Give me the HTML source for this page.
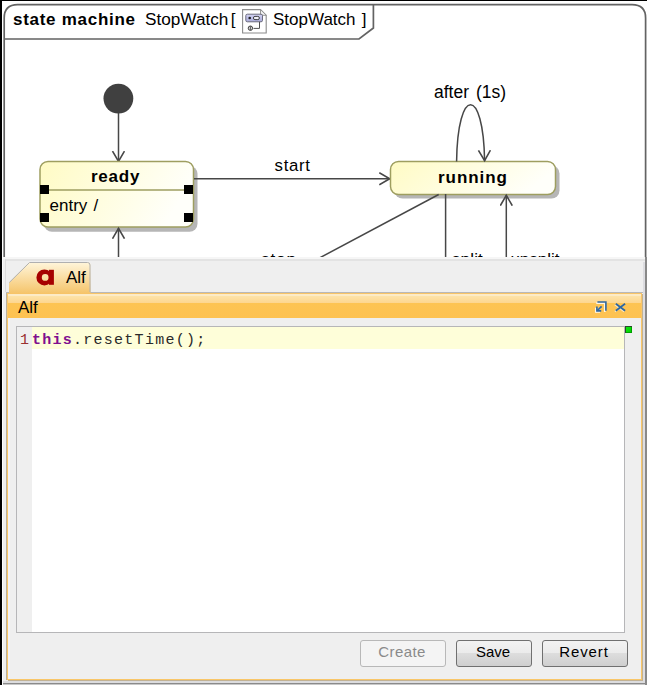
<!DOCTYPE html>
<html><head><meta charset="utf-8">
<style>
html,body{margin:0;padding:0;}
body{width:647px;height:685px;overflow:hidden;background:#fff;position:relative;font-family:"Liberation Sans",sans-serif;}
.abs{position:absolute;}
#blk-l{left:0;top:0;width:2px;height:685px;background:#000;}
#blk-t{left:0;top:0;width:647px;height:1px;background:#000;}
svg text{font-family:"Liberation Sans",sans-serif;}
#panel{left:2px;top:257px;width:643px;height:426px;background:linear-gradient(#f6f6f6 0,#f6f6f6 2px,#e3e3e3 2px,#e3e3e3 4px,#efefef 4px);}
#panel-l{left:2px;top:257px;width:1px;height:426px;background:#fcfcfc;}
#panel-il{left:5px;top:259px;width:1px;height:33px;background:#dcdcdc;}
#panel-il2{left:3px;top:259px;width:2px;height:2px;background:#efefef;}
#panel-r{left:645px;top:257px;width:2px;height:428px;background:#898989;}
#panel-ri{left:643px;top:262px;width:2px;height:421px;background:#dddde1;}
#panel-bi{left:3px;top:681px;width:642px;height:2px;background:#dcdcde;}
#panel-b{left:3px;top:683px;width:644px;height:1px;background:#8a8a8a;}
#panel-bw{left:3px;top:684px;width:644px;height:1px;background:#c8c8c8;}
#tab{left:9px;top:262px;width:82px;height:31px;}
#tabtxt{left:66px;top:267.5px;font-size:17px;color:#000;}
#frame{left:7px;top:293px;width:635px;height:387px;border:1px solid #f9c668;border-top:none;background:#efefef;box-sizing:border-box;box-shadow:-1px 0 0 #b9b09c, 1px 1px 0 #c2b294;}
#frame-in{left:8px;top:318px;width:2px;height:361px;background:#f3f3f6;}
#tline{left:6px;top:292px;width:637px;height:1px;background:#b9b9b9;}
#title{left:7px;top:293px;width:635px;height:25px;background:linear-gradient(#f7c468 0px,#f7c468 1px,#fdebc6 1px,#fdebc6 3px,#fde3a8 3px,#fdd690 10px,#fdc453 10px,#fdc252 25px);box-shadow:inset 1px 0 0 #f9c668, inset -1px 0 0 #f9c668;}
#titletxt{left:18px;top:298px;font-size:17px;color:#000;}
#editor{left:16px;top:326px;width:609px;height:307px;border:1px solid #b6b6b8;box-sizing:border-box;background:#fff;}
#gutter{left:17px;top:327px;width:15px;height:305px;background:#efefef;}
#hl{left:32px;top:327px;width:592px;height:22px;background:#fefed9;}
#ruler{left:625px;top:327px;width:0px;height:305px;}
#green{left:625px;top:326px;width:7px;height:7px;background:linear-gradient(135deg,#10f010,#00c800);box-shadow:inset 1px 1px 0 0 #2a4a2a, inset -1px -1px 0 0 #00a000;}
#code{left:32px;top:332px;font-family:"Liberation Mono",monospace;font-size:15px;letter-spacing:1.26px;white-space:pre;color:#2a2a2a;line-height:17px;}
#ln{left:20px;top:332px;font-family:"Liberation Mono",monospace;font-size:15px;color:#9a3030;line-height:17px;}
#code .ln{color:#9a3030;}
#code .kw{color:#7f0f8f;font-weight:bold;}
.btn{position:absolute;top:640px;height:27px;box-sizing:border-box;border:1px solid #707070;border-radius:3px;background:linear-gradient(#f2f2f2 0%,#ebebeb 50%,#dddddd 50%,#cfcfcf 100%);font-size:15px;text-align:center;line-height:22.6px;color:#000;padding-right:2px;}
#b-create{left:360px;width:86px;letter-spacing:0.4px;border-color:#b8b8b8;background:#f4f4f4;color:#8a8a8a;}
#b-save{left:456px;width:76px;}
#b-revert{left:542px;width:86px;letter-spacing:0.9px;}
</style></head><body>
<svg class="abs" style="left:0;top:0" width="647" height="257" viewBox="0 0 647 257">
  <defs>
    <linearGradient id="sg" x1="0" y1="0" x2="1" y2="0.25">
      <stop offset="0" stop-color="#fffbc4"/>
      <stop offset="1" stop-color="#fffffa"/>
    </linearGradient>
    <marker id="ah" markerWidth="14" markerHeight="14" refX="11.3" refY="6.5" orient="auto" markerUnits="userSpaceOnUse">
      <path d="M0.6,0.5 L11,6.5 L0.6,12.5" fill="none" stroke="#474747" stroke-width="1.6"/>
    </marker>
  </defs>
  <!-- outer frame -->
  <path d="M4.2,260 L4.2,18 Q4.2,4.6 17.6,4.6 L632,4.6 Q645.6,4.6 645.6,18 L645.6,260" fill="none" stroke="#636363" stroke-width="1.7"/>
  <!-- header tab -->
  <path d="M4.2,39 L359,39 L373.4,28 L373.4,4.6" fill="none" stroke="#636363" stroke-width="1.7"/>
  <text x="13" y="25.3" font-size="17" font-weight="bold" fill="#000" letter-spacing="0.72">state machine</text>
  <text x="145" y="25.3" font-size="17.2" fill="#000">StopWatch</text>
  <text x="230.8" y="25.3" font-size="17" fill="#000">[</text>
  <text x="273" y="25.3" font-size="17" fill="#000">StopWatch</text>
  <text x="361.8" y="25.3" font-size="17" fill="#000">]</text>
  <!-- icon -->
  <g>
    <defs>
      <linearGradient id="ig" x1="0" y1="0" x2="0" y2="1">
        <stop offset="0" stop-color="#d4d4f4"/>
        <stop offset="1" stop-color="#a9aad8"/>
      </linearGradient>
    </defs>
    <path d="M242.6,9.6 L260.5,9.6 L266.2,15.3 L266.2,33 L242.6,33 Z" fill="#fff" stroke="#8c8c8c" stroke-width="1.1"/>
    <path d="M260.5,9.6 L260.5,15.3 L266.2,15.3 Z" fill="#f4f4f4" stroke="#8c8c8c" stroke-width="0.9"/>
    <rect x="245.8" y="14.2" width="16.7" height="7.6" rx="1.5" fill="url(#ig)" stroke="#6c6c7c" stroke-width="1"/>
    <circle cx="249.7" cy="18" r="1.3" fill="#202020"/>
    <rect x="253.4" y="16.4" width="6" height="3.2" rx="1.6" fill="#f0f0f8" stroke="#303030" stroke-width="0.9"/>
    <path d="M259.5,21.8 L259.5,28.4 L253.5,28.4" fill="none" stroke="#505050" stroke-width="1"/>
    <circle cx="250.4" cy="28.2" r="2.2" fill="#d8d8d8" stroke="#404040" stroke-width="1"/>
    <path d="M250.4,26.2 L250.4,30.2" stroke="#404040" stroke-width="0.8"/>
  </g>
  <!-- initial node -->
  <circle cx="118.4" cy="98.6" r="14.9" fill="#404040"/>
  <line x1="118.5" y1="113" x2="118.5" y2="161.8" stroke="#474747" stroke-width="1.5" marker-end="url(#ah)"/>
  <!-- ready state -->
  <rect x="44" y="165.8" width="153.5" height="66" rx="8" fill="#b6b6b6"/>
  <rect x="40" y="161.5" width="153.5" height="65.6" rx="8" fill="url(#sg)" stroke="#9e9e60" stroke-width="1.5"/>
  <line x1="40" y1="190" x2="193.5" y2="190" stroke="#9e9e60" stroke-width="1.3"/>
  <text x="115.6" y="182" font-size="17" font-weight="bold" text-anchor="middle" fill="#000" letter-spacing="0.8">ready</text>
  <text x="49.5" y="210.5" font-size="17" fill="#000" word-spacing="1.4">entry /</text>
  <rect x="40" y="185" width="9" height="9" fill="#000"/>
  <rect x="184" y="185" width="9" height="9" fill="#000"/>
  <rect x="40" y="213" width="9" height="9" fill="#000"/>
  <rect x="184" y="213" width="9" height="9" fill="#000"/>
  <!-- arrow up into ready -->
  <line x1="118.5" y1="260" x2="118.5" y2="228" stroke="#474747" stroke-width="1.5" marker-end="url(#ah)"/>
  <!-- start -->
  <line x1="194" y1="178.8" x2="390" y2="178.8" stroke="#474747" stroke-width="1.5" marker-end="url(#ah)"/>
  <text x="274.6" y="171" font-size="16.8" fill="#000" letter-spacing="0.65">start</text>
  <!-- running state -->
  <rect x="394.5" y="165.5" width="165" height="33" rx="8" fill="#b6b6b6"/>
  <rect x="390.5" y="161.5" width="165" height="33" rx="8" fill="url(#sg)" stroke="#9e9e60" stroke-width="1.5"/>
  <text x="473" y="182.5" font-size="17" font-weight="bold" text-anchor="middle" fill="#000" letter-spacing="0.95">running</text>
  <!-- self loop -->
  <path d="M456.6,161.5 C457.5,85.85 483.5,85.85 484.6,161" fill="none" stroke="#474747" stroke-width="1.5" marker-end="url(#ah)"/>
  <text x="434" y="98" font-size="17.5" fill="#000" word-spacing="2">after (1s)</text>
  <!-- split / unsplit / stop -->
  <line x1="445.6" y1="194" x2="445.6" y2="260" stroke="#474747" stroke-width="1.5"/>
  <line x1="506.3" y1="260" x2="506.3" y2="195" stroke="#474747" stroke-width="1.5" marker-end="url(#ah)"/>
  <line x1="438.7" y1="194.5" x2="317.5" y2="259" stroke="#474747" stroke-width="1.5"/>
  <text x="451.8" y="264.5" font-size="17" fill="#000" letter-spacing="0.2">split</text>
  <text x="510.4" y="264.5" font-size="17" fill="#000">unsplit</text>
  <text x="261" y="264.5" font-size="17" fill="#000" letter-spacing="0.9">stop</text>
</svg>
<div class="abs" id="blk-l"></div>
<div class="abs" id="blk-t"></div>

<div class="abs" id="panel"></div>
<div class="abs" id="panel-l"></div>
<div class="abs" id="panel-il"></div>
<div class="abs" id="panel-il2"></div>
<div class="abs" id="panel-bw"></div>
<div class="abs" id="panel-ri"></div>
<div class="abs" id="panel-bi"></div>
<div class="abs" id="panel-r"></div>
<div class="abs" id="panel-b"></div>
<div class="abs" id="tline"></div>
<svg class="abs" id="tab" width="82" height="31" viewBox="0 0 82 31" style="left:9px;top:262px">
  <defs>
    <linearGradient id="tg" x1="0" y1="0" x2="0" y2="1">
      <stop offset="0" stop-color="#fff6dc"/>
      <stop offset="1" stop-color="#f5c56c"/>
    </linearGradient>
  </defs>
  <path d="M0,31 L0,20.5 L20.5,0 L78.5,0 Q81.5,0 81.5,3 L81.5,31 Z" fill="url(#tg)"/>
  <path d="M0.3,20.5 L20.5,0.5 L78.5,0.5 Q81,0.5 81,3 L81,30" fill="none" stroke="#b0b0b0" stroke-width="1"/>
  <!-- a icon -->
  <path fill-rule="evenodd" fill="#a60000" d="M27.4,15.4 A8,8 0 1,0 43.4,15.4 A8,8 0 1,0 27.4,15.4 Z M32.8,15.4 A3.4,3.4 0 1,0 39.6,15.4 A3.4,3.4 0 1,0 32.8,15.4 Z"/>
  <rect x="39.9" y="7.8" width="5" height="15" fill="#a60000"/>
</svg>
<div class="abs" id="tabtxt">Alf</div>
<div class="abs" id="frame"></div>
<div class="abs" id="frame-in"></div>
<div class="abs" id="title"></div>
<div class="abs" id="titletxt">Alf</div>
<svg class="abs" style="left:592px;top:299px" width="40" height="18" viewBox="0 0 40 18">
  <g fill="none" stroke="#fffaf0" stroke-width="1.7" opacity="0.95" transform="translate(-1.1,1.1)">
    <path d="M5.4,3.05 L14.7,3.05 M13.9,2.3 L13.9,11.8"/>
    <path d="M9.6,7.3 L5.2,11.7"/>
    <path d="M4.9,7.6 L4.9,11.9 L9.2,11.9"/>
  </g>
  <g fill="none" stroke="#fff8ea" stroke-width="1.6" opacity="0.7" transform="translate(-0.9,0.9)">
    <path d="M23.8,4.8 L33.1,11.8 M33.1,4.8 L23.8,11.8"/>
  </g>
  <path d="M5.4,3.05 L14.7,3.05 M13.9,2.3 L13.9,11.8" fill="none" stroke="#2f67a0" stroke-width="1.6"/>
  <path d="M9.6,7.3 L5.2,11.7" fill="none" stroke="#2f67a0" stroke-width="1.7"/>
  <path d="M4.9,7.6 L4.9,11.9 L9.2,11.9" fill="none" stroke="#2f67a0" stroke-width="1.6"/>
  <path d="M23.8,4.8 L33.1,11.8 M33.1,4.8 L23.8,11.8" fill="none" stroke="#2f67a0" stroke-width="1.8"/>
</svg>
<div class="abs" id="editor"></div>
<div class="abs" id="gutter"></div>
<div class="abs" id="hl"></div>
<div class="abs" id="green"></div>
<div class="abs" id="ln">1</div>
<div class="abs" id="code"><span class="kw">this</span>.resetTime();</div>
<div class="btn" id="b-create">Create</div>
<div class="btn" id="b-save">Save</div>
<div class="btn" id="b-revert">Revert</div>
</body></html>
